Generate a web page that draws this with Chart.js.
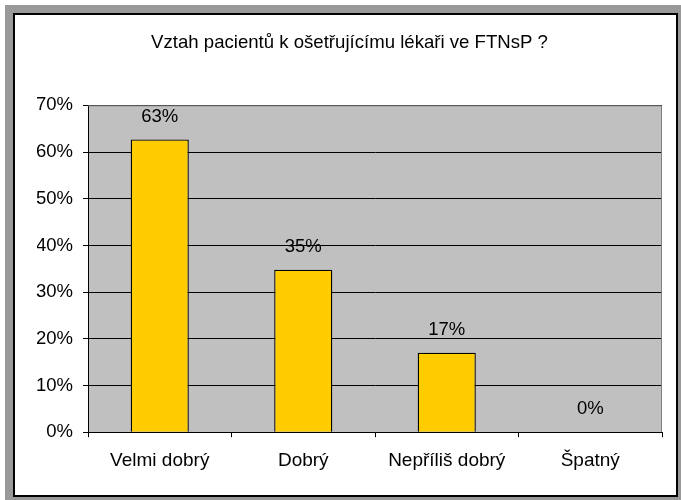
<!DOCTYPE html>
<html>
<head>
<meta charset="utf-8">
<script src="https://cdn.jsdelivr.net/npm/chart.js@4"></script>
<style>
  html, body { margin: 0; padding: 0; background: #fff; }
  #wrap { position: relative; width: 681px; height: 500px; overflow: hidden; }
  #frame { position: absolute; left: 5px; top: 5px; right: 0; bottom: 0; background: #999999; }
  #inner { position: absolute; left: 13px; top: 13px; width: 665px; height: 484px;
           box-sizing: border-box; border: 2px solid #000; background: #fff; }
  #chart { position: absolute; left: 0; top: 0; }
</style>
</head>
<body>
<div id="wrap">
  <div id="frame"></div>
  <div id="inner"></div>
  <canvas id="chart" width="681" height="500"></canvas>
</div>
<script>
// data
const categories = ["Velmi dobrý", "Dobrý", "Nepříliš dobrý", "Špatný"];
const values = [62.7, 34.8, 17.0, 0];
const title = "Vztah pacientů k ošetřujícímu lékaři ve FTNsP ?";
const yMax = 70;
const yStep = 10;

const FONT = "'Liberation Sans', Arial, sans-serif";

// gray plot background + gray border top/right
const plotBg = {
    id: "plotBg",
    beforeDraw(chart) {
        const { ctx, chartArea: a } = chart;
        ctx.save();
        ctx.fillStyle = "#C0C0C0";
        ctx.fillRect(a.left, a.top, a.right - a.left, a.bottom - a.top);
        ctx.restore();
    },
    afterDatasetsDraw(chart) {
        const { ctx, chartArea: a } = chart;
        ctx.save();
        ctx.strokeStyle = "#808080";
        ctx.lineWidth = 1;
        ctx.beginPath();
        ctx.moveTo(a.left, a.top + 0.5);
        ctx.lineTo(a.right - 0.5, a.top + 0.5);
        ctx.lineTo(a.right - 0.5, a.bottom);
        ctx.stroke();
        ctx.restore();
    }
};

// value labels above bars
const barLabels = {
    id: "barLabels",
    afterDatasetsDraw(chart) {
        const { ctx } = chart;
        const meta = chart.getDatasetMeta(0);
        ctx.save();
        ctx.font = "18.5px " + FONT;
        ctx.fillStyle = "#000";
        ctx.textAlign = "center";
        ctx.textBaseline = "middle";
        meta.data.forEach((bar, i) => {
            ctx.fillText(Math.round(values[i]) + "%", bar.x, bar.y - 23);
        });
        ctx.restore();
    }
};

new Chart(document.getElementById("chart").getContext("2d"), {
    type: "bar",
    data: {
        labels: categories,
        datasets: [{
            data: values,
            backgroundColor: "#FFCC00",
            borderColor: "#000",
            borderWidth: 1.3,
            barPercentage: 0.405,
            categoryPercentage: 1
        }]
    },
    options: {
        responsive: false,
        animation: false,
        layout: { padding: { top: 20, left: 37, right: 19, bottom: 16 } },
        plugins: {
            legend: { display: false },
            tooltip: { enabled: false },
            title: {
                display: true,
                text: title,
                color: "#000",
                font: { family: FONT, size: 18.6, weight: "normal" },
                padding: { top: 12, bottom: 51 }
            }
        },
        scales: {
            x: {
                grid: { offset: true, drawOnChartArea: false, color: "#000", tickLength: 5 },
                border: { color: "#000", width: 1 },
                ticks: { color: "#000", font: { family: FONT, size: 19 }, padding: 12, maxRotation: 0 }
            },
            y: {
                min: 0,
                max: yMax,
                afterFit: s => { s.width = 51; },
                grid: { color: "#000", tickLength: 5 },
                border: { color: "#000", width: 1 },
                ticks: {
                    stepSize: yStep,
                    color: "#000",
                    font: { family: FONT, size: 18.5 },
                    padding: 10,
                    callback: v => v + "%"
                }
            }
        }
    },
    plugins: [plotBg, barLabels]
});
</script>
</body>
</html>
